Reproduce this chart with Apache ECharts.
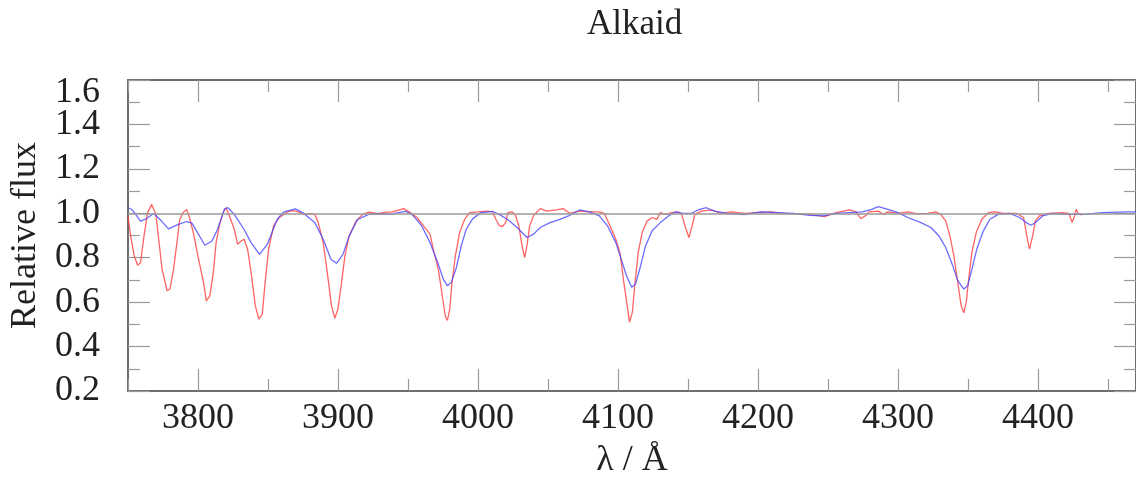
<!DOCTYPE html>
<html>
<head>
<meta charset="utf-8">
<script src="https://cdn.jsdelivr.net/npm/echarts@6/dist/echarts.min.js"></script>
<style>html,body{margin:0;padding:0;background:#fff}#c{width:1136px;height:484px}</style>
</head>
<body>
<div id="c"></div>
<script>
const chartTitle = 'Alkaid';
const xName = 'λ / Å';
const yName = 'Relative flux';
const xMajorTicks = [3800, 3900, 4000, 4100, 4200, 4300, 4400];
const xMinorTicks = [3750, 3850, 3950, 4050, 4150, 4250, 4350, 4450];
const yTopLabel = [1.6];

const modelWave = [3750,3753,3759,3763,3768.5,3774,3779,3786,3792,3795.6,3805,3810,3814,3819,3821.5,3826,3833,3838,3844,3849.5,3856.6,3861,3869.6,3875,3883.6,3889.5,3895,3899,3903.6,3908,3914,3922,3932,3936.4,3948.2,3952.9,3959.9,3965.8,3971.7,3975.2,3978.2,3981,3984.6,3988.1,3991.6,3996.3,4002.2,4010.4,4015.1,4021,4028,4035,4039.8,4044.5,4051.5,4058.5,4065.6,4072.6,4079.7,4086.7,4092.6,4098.5,4103.1,4106,4109.8,4112.6,4116.2,4119.7,4124.4,4130.3,4136.1,4140.8,4146.7,4152.6,4157.2,4163.1,4169,4178.4,4190.1,4201.9,4213.6,4225.3,4237.1,4246.5,4255.9,4265.3,4274.7,4281.2,4285.9,4292.9,4300,4307,4316.4,4323.5,4329.3,4334.1,4338.7,4342.7,4347,4349.8,4352.8,4356.3,4361,4365.7,4371.6,4379.8,4386.9,4391.6,4395.1,4398.6,4403.3,4410.3,4419.7,4426.8,4433.8,4445.6,4464.3,4470];
const modelFlux = [1.025,1.017,0.965,0.975,0.999,0.965,0.93,0.95,0.963,0.957,0.856,0.875,0.927,1.02,1.025,0.995,0.927,0.868,0.815,0.86,0.972,1.005,1.02,1.002,0.957,0.883,0.793,0.775,0.815,0.897,0.972,0.995,0.998,0.995,1.009,0.995,0.943,0.868,0.771,0.704,0.674,0.689,0.756,0.853,0.928,0.976,1.003,1.009,0.995,0.973,0.936,0.891,0.906,0.936,0.958,0.973,0.991,1.015,1.006,0.988,0.943,0.868,0.779,0.72,0.667,0.682,0.764,0.853,0.921,0.958,0.988,1.006,1.0,1.0,1.015,1.025,1.01,1.0,0.994,1.006,1.003,1.0,0.991,0.988,1.0,1.003,1.006,1.018,1.03,1.018,1.003,0.981,0.958,0.936,0.898,0.846,0.771,0.697,0.659,0.674,0.749,0.839,0.921,0.973,0.995,1.0,0.981,0.958,0.946,0.961,0.988,1.0,0.995,0.995,0.995,1.003,1.006,1.006];

const obsWave = [3750,3752,3754.5,3757,3759,3761.5,3764,3767,3770,3772,3774.4,3778,3780,3782.6,3785,3787,3789.6,3792,3794,3796.7,3800,3804,3806,3808.5,3811,3813,3815.5,3818,3820,3823,3826,3828.4,3830.8,3833,3835.5,3838,3841,3843.5,3846,3848,3850.5,3854,3858,3863.6,3867,3870.7,3874,3876.6,3880,3883.6,3886,3889.5,3892.4,3895.4,3897.8,3900,3902.6,3905,3908,3913,3917.7,3922,3929,3931.7,3938.8,3947,3951.7,3956.4,3961.1,3965.8,3968.1,3971.7,3974.5,3976.8,3978.2,3979.9,3981.5,3983.9,3986.9,3990.5,3994,3999.8,4006.9,4010.4,4012.8,4015.1,4017.4,4019.8,4021.4,4024.5,4026.8,4029.2,4031.5,4033.4,4035,4036.9,4039.8,4044.5,4049.1,4056.2,4060.9,4065.6,4072.6,4079.7,4086.7,4090.2,4093.8,4098.5,4101.5,4104.4,4106.7,4108.3,4110.3,4112.2,4114.5,4117.3,4120.9,4124.4,4127.9,4130.3,4133.8,4138.5,4143.2,4145.5,4147.9,4150.7,4153,4154.9,4159.6,4166.6,4173.7,4180.7,4190.1,4199.5,4208.9,4218.3,4227.7,4237.1,4247.6,4255.9,4265.3,4270,4273.5,4276.5,4279.3,4285.9,4289.4,4292.9,4300,4307,4314.1,4321.1,4327,4330.5,4334.1,4337.1,4339.9,4342.7,4345.1,4347,4348.8,4350.5,4352.8,4355.9,4359.9,4364.6,4369.2,4375.1,4384.5,4389.7,4392,4393.9,4396.2,4398.1,4401,4408,4417.4,4422.1,4424.4,4426.1,4427.3,4428.6,4431.5];
const obsFlux = [0.987,0.897,0.808,0.766,0.778,0.897,1.002,1.04,0.995,0.883,0.748,0.651,0.659,0.748,0.868,0.972,1.005,1.017,0.98,0.913,0.808,0.689,0.606,0.628,0.733,0.868,0.95,1.002,1.025,0.98,0.927,0.86,0.875,0.883,0.838,0.733,0.584,0.524,0.547,0.689,0.838,0.942,0.98,1.005,1.012,1.009,1.0,0.995,0.998,0.995,0.957,0.868,0.733,0.584,0.527,0.569,0.689,0.808,0.897,0.965,0.995,1.005,0.998,1.003,1.006,1.021,1.003,0.981,0.943,0.906,0.839,0.749,0.63,0.533,0.518,0.57,0.689,0.809,0.913,0.973,1.003,1.006,1.01,1.006,0.973,0.946,0.94,0.958,1.003,1.006,0.991,0.943,0.853,0.801,0.853,0.943,0.991,1.021,1.01,1.015,1.021,1.0,1.01,1.006,1.006,1.0,0.951,0.883,0.82,0.68,0.58,0.51,0.555,0.689,0.824,0.913,0.966,0.981,0.973,1.003,0.995,1.003,1.006,0.995,0.943,0.891,0.943,0.995,1.01,1.015,1.0,1.006,1.0,1.003,1.006,1.0,0.997,0.995,0.985,1.003,1.015,1.006,0.976,0.988,1.006,1.01,0.995,1.006,1.0,1.006,0.997,1.0,1.006,0.995,0.966,0.898,0.809,0.689,0.585,0.552,0.6,0.704,0.824,0.913,0.973,1.003,1.006,1.0,1.0,0.981,0.898,0.839,0.898,0.966,0.988,1.0,1.003,1.0,0.958,0.988,1.018,1.0,0.991];

const FONT = 'Liberation Serif';
const xMin = 3750, xMax = 4470;
const frameColor = '#6e6e6e';
const tickColor = '#9a9a9a';

function xAx(pos, ticks, len, showLine, showLabel) {
  return {
    type: 'value', position: pos, offset: 0, min: xMin, max: xMax,
    gridIndex: 0,
    axisLine: {show: showLine, onZero: false, lineStyle: {color: frameColor, width: 2}},
    axisTick: {show: true, inside: true, length: len, customValues: ticks, lineStyle: {color: tickColor, width: 1.2}},
    axisLabel: showLabel ? {show: true, customValues: ticks, margin: 10, fontFamily: FONT, fontSize: 36, color: '#222', formatter: v => String(v)} : {show: false},
    splitLine: {show: false}
  };
}

const chart = echarts.init(document.getElementById('c'), null, {renderer: 'canvas'});
chart.setOption({
  animation: false,
  backgroundColor: '#fff',
  title: {text: chartTitle, left: 582, top: 2, textStyle: {fontFamily: FONT, fontSize: 35, fontWeight: 'normal', color: '#222'}},
  grid: {left: 122, top: 80, width: 1022, height: 312},
  xAxis: [
    Object.assign(xAx('bottom', xMajorTicks, 22, true, true), {name: xName, nameLocation: 'middle', nameGap: 52, nameTextStyle: {fontFamily: FONT, fontSize: 36, color: '#222'}}),
    xAx('bottom', xMinorTicks, 12, false, false),
    xAx('top', xMajorTicks, 22, true, false),
    xAx('top', xMinorTicks, 12, false, false)
  ],
  yAxis: [
    {
      type: 'value', position: 'left', offset: 0, min: 0.2, max: 1.6, interval: 0.2,
      axisLine: {show: true, onZero: false, lineStyle: {color: frameColor, width: 2}},
      axisTick: {show: true, inside: true, length: 22, lineStyle: {color: tickColor, width: 1.2}},
      minorTick: {show: true, splitNumber: 2, length: 12, lineStyle: {color: tickColor, width: 1.2}},
      axisLabel: {
        margin: 28, fontFamily: FONT, fontSize: 36, color: '#222',
        showMinLabel: true, showMaxLabel: false,
        formatter: v => v.toFixed(1)
      },
      splitLine: {show: false},
      name: yName, nameLocation: 'middle', nameRotate: 90, nameGap: 82,
      nameTextStyle: {fontFamily: FONT, fontSize: 36, color: '#222'}
    },
    {
      type: 'value', position: 'right', offset: 0, min: 0.2, max: 1.6, interval: 0.2,
      axisLine: {show: true, onZero: false, lineStyle: {color: frameColor, width: 2}},
      axisTick: {show: true, inside: true, length: 22, lineStyle: {color: tickColor, width: 1.2}},
      minorTick: {show: true, splitNumber: 2, length: 12, lineStyle: {color: tickColor, width: 1.2}},
      axisLabel: {show: false},
      splitLine: {show: false}
    },
    {
      type: 'value', position: 'left', offset: 0, min: 0.2, max: 1.6, interval: 0.2,
      axisLine: {show: false}, axisTick: {show: false}, splitLine: {show: false},
      axisLabel: {
        show: true, customValues: yTopLabel, margin: 28, fontFamily: FONT, fontSize: 36, color: '#222',
        verticalAlign: 'top', lineHeight: 26, showMaxLabel: true,
        formatter: v => v.toFixed(1)
      }
    }
  ],
  series: [
    {
      type: 'line', data: [], silent: true, z: 1,
      markLine: {silent: true, symbol: 'none', label: {show: false},
        lineStyle: {color: '#9a9a9a', width: 1.5, type: 'solid'},
        data: [{yAxis: 1.0}]}
    },
    {
      name: 'model', type: 'line', z: 3, showSymbol: false, symbol: 'none',
      data: modelWave.map((w, i) => [w, modelFlux[i]]),
      lineStyle: {color: 'rgba(70,70,255,0.8)', width: 1.3}
    },
    {
      name: 'observed', type: 'line', z: 2, showSymbol: false, symbol: 'none',
      data: obsWave.map((w, i) => [w, obsFlux[i]]),
      lineStyle: {color: 'rgba(255,60,60,0.8)', width: 1.3}
    }
  ]
});
</script>
</body>
</html>
